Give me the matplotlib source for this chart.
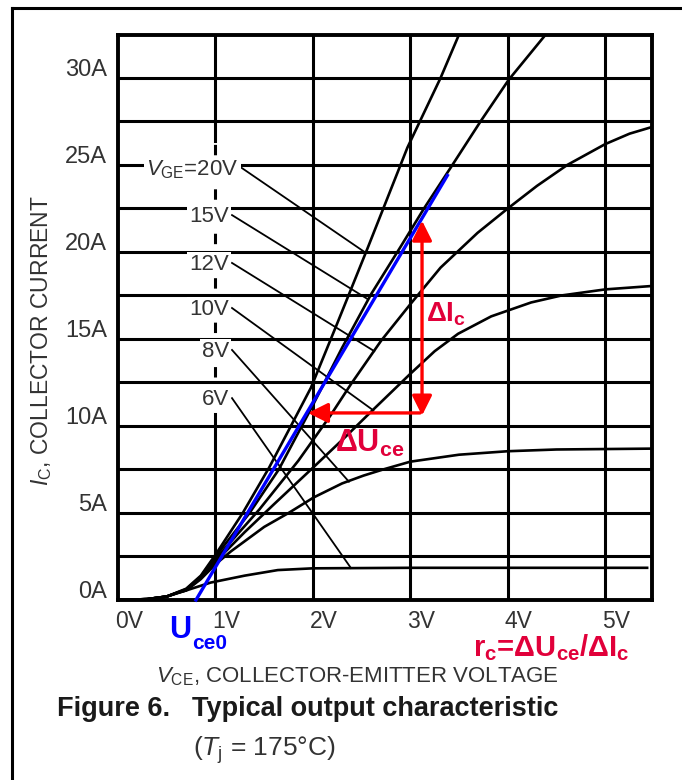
import matplotlib
matplotlib.use("Agg")
import matplotlib.pyplot as plt
import matplotlib.transforms as mtransforms
from matplotlib.lines import Line2D
from matplotlib.patches import FancyArrowPatch

plt.rcParams['font.family'] = ['Liberation Sans', 'DejaVu Sans']
plt.rcParams['mathtext.fontset'] = 'custom'
plt.rcParams['mathtext.rm'] = 'Liberation Sans'
plt.rcParams['mathtext.it'] = 'Liberation Sans:italic'
plt.rcParams['mathtext.bf'] = 'Liberation Sans:bold'
plt.rcParams['lines.scale_dashes'] = False

FIG_W, FIG_H = 682, 780

# Output curves: V_CE in volts, I_C in amps
VGE_LABELS = [r'$V_{\rm GE}$=20V', '15V', '12V', '10V', '8V', '6V']

VCE_20 = [0, 0.3, 0.5, 0.7, 0.85, 1.0, 1.28, 1.55, 1.98, 2.25, 2.56, 2.97, 3.31, 3.5]
IC_20 = [0, 0.05, 0.2, 0.65, 1.4, 2.6, 5.0, 7.6, 12.2, 15.9, 20.2, 26.0, 30.0, 32.5]

VCE_15 = [0, 0.3, 0.5, 0.7, 0.85, 1.0, 1.35, 1.65, 2.0, 2.3, 2.6, 2.9, 3.14, 3.42, 3.72, 4.01, 4.39]
IC_15 = [0, 0.05, 0.2, 0.62, 1.35, 2.5, 5.0, 7.5, 11.2, 14.5, 17.6, 20.3, 22.5, 24.9, 27.5, 29.9, 32.5]

VCE_12 = [0, 0.3, 0.5, 0.7, 0.85, 1.0, 1.45, 1.85, 2.18, 2.39, 2.7, 3.0, 3.31, 3.69, 4.0,
          4.3, 4.61, 5.0, 5.25, 5.49]
IC_12 = [0, 0.05, 0.2, 0.6, 1.3, 2.35, 5.2, 8.0, 10.6, 12.4, 14.9, 17.0, 19.1, 21.1, 22.5,
         23.8, 25.0, 26.2, 26.8, 27.2]

VCE_10 = [0, 0.3, 0.5, 0.7, 0.85, 1.0, 1.3, 1.6, 2.0, 2.32, 2.63, 3.0, 3.25, 3.49, 3.83,
          4.24, 4.55, 5.0, 5.49]
IC_10 = [0, 0.05, 0.2, 0.57, 1.25, 2.2, 3.9, 5.5, 7.6, 9.3, 11.0, 13.0, 14.3, 15.3, 16.3,
         17.1, 17.5, 17.85, 18.05]

VCE_8 = [0, 0.3, 0.5, 0.7, 0.85, 1.0, 1.16, 1.5, 1.75, 2.01, 2.3, 2.52, 2.72, 3.0, 3.5, 4.0, 4.5, 5.49]
IC_8 = [0, 0.05, 0.2, 0.55, 1.2, 2.05, 2.8, 4.2, 5.0, 5.9, 6.7, 7.15, 7.5, 7.95, 8.35, 8.55, 8.65, 8.7]

VCE_6 = [0, 0.3, 0.5, 0.6, 0.7, 0.95, 1.3, 1.64, 2.0, 3.0, 4.0, 5.43]
IC_6 = [0, 0.05, 0.2, 0.4, 0.55, 1.0, 1.4, 1.72, 1.82, 1.85, 1.85, 1.85]

CURVES = [(VCE_20, IC_20), (VCE_15, IC_15), (VCE_12, IC_12),
          (VCE_10, IC_10), (VCE_8, IC_8), (VCE_6, IC_6)]

# where each label's leader line touches its curve
POINTER_END_V = [2.53, 2.56, 2.63, 2.62, 2.37, 2.39]
POINTER_END_I = [20.0, 17.3, 14.3, 10.9, 6.8, 1.84]

# label anchors (right edge, baseline)
LABEL_V = [1.24, 1.14, 1.14, 1.14, 1.14, 1.14]
LABEL_I = [24.43, 21.72, 18.97, 16.38, 13.97, 11.2]

# linear approximation line (U_ce0 + r_c * I_c)
UCE0_LINE_V = [0.8, 3.38]
UCE0_LINE_I = [0.0, 24.4]

# delta arrows
DELTA_I_V = 3.12
DELTA_I_RANGE = [10.6, 21.8]
DELTA_U_I = 10.75
DELTA_U_RANGE = [3.1, 1.95]

X_TICKS = [0, 1, 2, 3, 4, 5]
X_TICK_LABELS = ['0V', '1V', '2V', '3V', '4V', '5V']
Y_TICKS = [0, 5, 10, 15, 20, 25, 30]
Y_TICK_LABELS = ['0A', '5A', '10A', '15A', '20A', '25A', '30A']
X_GRID = [2, 3, 4, 5]
Y_GRID = [2.5, 5, 7.5, 10, 12.5, 15, 17.5, 20, 22.5, 25, 27.5, 30]

RED_TEXT = '#E1003A'
RED_ARROW = '#FF0000'
BLUE = '#0000FF'
GREY_TEXT = '#333333'


def px_fig(x, y):
    return x / FIG_W, 1 - y / FIG_H


fig = plt.figure(figsize=(FIG_W / 100, FIG_H / 100), dpi=100)
ax = fig.add_axes([118 / FIG_W, (FIG_H - 600) / FIG_H, (652 - 118) / FIG_W, 565 / FIG_H])
ax.set_xlim(0, 5.48)
ax.set_ylim(0, 32.47)
ax.set_xticks([])
ax.set_yticks([])
for sp in ax.spines.values():
    sp.set_linewidth(2.8)
    sp.set_color('black')

# grid (the 1V line is drawn separately because it is broken by the labels)
for v in X_GRID:
    ax.axvline(v, color='black', lw=2.2, zorder=1)
for i in Y_GRID:
    ax.axhline(i, color='black', lw=2.2, zorder=1)
ax.plot([1, 1], [0, 10.7], color='black', lw=2.2, zorder=1)
ax.plot([1, 1], [26.4, 32.47], color='black', lw=2.2, zorder=1)
ax.plot([1, 1], [12.8, 26.2], color='black', lw=2.2, dashes=(7.5, 24.5), zorder=1)

# output curves
for v, i in CURVES:
    ax.plot(v, i, color='black', lw=1.9, zorder=2, solid_joinstyle='round')

# curve labels with leader lines
for k, lab in enumerate(VGE_LABELS):
    ax.text(LABEL_V[k], LABEL_I[k], lab, fontsize=16, color=GREY_TEXT,
            ha='right', va='baseline', zorder=4,
            bbox=dict(facecolor='white', edgecolor='none', pad=1.5))
    ax.plot([LABEL_V[k] + 0.03, POINTER_END_V[k]], [LABEL_I[k] + 0.4, POINTER_END_I[k]],
            color='black', lw=1.3, zorder=3)

# U_ce0 / r_c construction
ax.plot(UCE0_LINE_V, UCE0_LINE_I, color=BLUE, lw=2.4, zorder=5, clip_on=False)

arr_v = FancyArrowPatch((DELTA_I_V, DELTA_I_RANGE[0]), (DELTA_I_V, DELTA_I_RANGE[1]),
                        arrowstyle='<|-|>,head_length=0.6,head_width=0.3', mutation_scale=20,
                        color=RED_ARROW, lw=2.4, shrinkA=0, shrinkB=0, zorder=6)
ax.add_patch(arr_v)
arr_h = FancyArrowPatch((DELTA_U_RANGE[0], DELTA_U_I), (DELTA_U_RANGE[1], DELTA_U_I),
                        arrowstyle='-|>,head_length=0.6,head_width=0.3', mutation_scale=20,
                        color=RED_ARROW, lw=2.4, shrinkA=0, shrinkB=0, zorder=6)
ax.add_patch(arr_h)

ax.text(3.16, 15.98, r'$\mathbf{\Delta I_c}$', fontsize=20, color=RED_TEXT,
        ha='left', va='baseline', zorder=7)
ax.text(2.23, 8.5, r'$\mathbf{\Delta U_{ce}}$', fontsize=22, color=RED_TEXT,
        ha='left', va='baseline', zorder=7)

# tick labels
tx = mtransforms.blended_transform_factory(ax.transData, ax.transAxes)
for v, lab in zip(X_TICKS, X_TICK_LABELS):
    ax.text(v - 0.03, -21 / 565, lab, transform=tx, fontsize=16.5, color=GREY_TEXT,
            ha='left', va='center', clip_on=False)
ty = mtransforms.blended_transform_factory(ax.transAxes, ax.transData)
for i, lab in zip(Y_TICKS, Y_TICK_LABELS):
    ax.text(-11 / 534, i + 0.12, lab, transform=ty, fontsize=17, color=GREY_TEXT,
            ha='right', va='baseline', clip_on=False)

# axis titles
fig.text(*px_fig(156, 682), r'$V_{\rm CE}$, COLLECTOR-EMITTER VOLTAGE', fontsize=16,
         color=GREY_TEXT, ha='left', va='baseline')
fig.text(*px_fig(42, 341), r'$I_{\rm C}$, COLLECTOR CURRENT', fontsize=16.5,
         color=GREY_TEXT, rotation=90, ha='center', va='center')

# annotations below the axes (U and its subscript set apart so "ce0" sits under "1V")
fig.text(*px_fig(169, 638), 'U', fontsize=22, fontweight='bold', color=BLUE,
         ha='left', va='baseline')
fig.text(*px_fig(192, 649), 'ce0', fontsize=15, fontweight='bold', color=BLUE,
         ha='left', va='baseline')
fig.text(*px_fig(473, 656), r'$\mathbf{r_c}$=$\mathbf{\Delta U_{ce}}$/$\mathbf{\Delta I_c}$',
         fontsize=21, fontweight='bold', color=RED_TEXT, ha='left', va='baseline')

# caption
fig.text(*px_fig(57, 716), 'Figure 6.', fontsize=19.5, fontweight='bold', color='#1a1a1a',
         ha='left', va='baseline')
fig.text(*px_fig(192, 716), 'Typical output characteristic', fontsize=19.5, fontweight='bold',
         color='#1a1a1a', ha='left', va='baseline')
fig.text(*px_fig(193, 756), r'($T_{\rm j}$ = 175°C)', fontsize=19, color=GREY_TEXT,
         ha='left', va='baseline')

# page frame (left and top edges only are visible)
fig.add_artist(Line2D([12 / FIG_W, 12 / FIG_W], [0, 1 - 8 / FIG_H], color='black', lw=2.2))
fig.add_artist(Line2D([12 / FIG_W, 1], [1 - 8 / FIG_H, 1 - 8 / FIG_H], color='black', lw=2.2))

fig.savefig('out.png', dpi=100)
